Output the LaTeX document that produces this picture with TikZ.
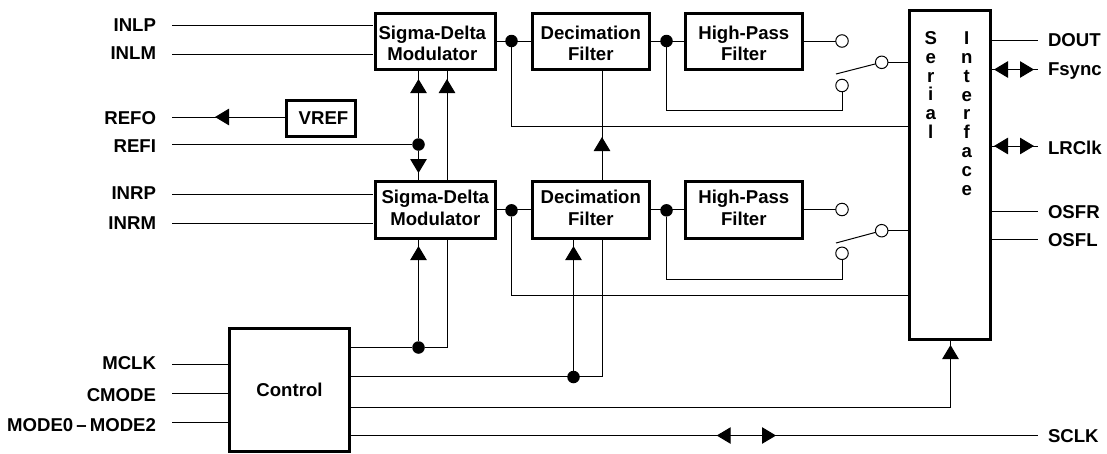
\documentclass[tikz,border=0pt]{standalone}
\usepackage{fontspec}
\setmainfont{Liberation Sans}[BoldFont={Liberation Sans Bold}]
\usetikzlibrary{arrows.meta,decorations.markings,calc}
\newcommand{\lowertext}{\rule{0pt}{17.5pt}}
\newcommand{\raisetext}{\rule[-4pt]{0pt}{4pt}}
\tikzset{
  x=1pt,y=-1pt,
  tri/.tip={Triangle[length=14pt,width=16.5pt]},
  wire/.style={line width=1pt,line cap=butt,line join=miter},
  blk/.style={draw,line width=3pt,fill=white,inner sep=0pt,outer sep=0pt,align=center,
    font=\fontsize{18.6}{21.6}\selectfont\bfseries},
  sig/.style={inner sep=0pt,outer sep=0pt,font=\fontsize{18.6}{21.6}\selectfont\bfseries},
  sigl/.style={sig,anchor=base east},
  sigr/.style={sig,anchor=base west},
  letter/.style={sig,anchor=base},
  dot/.style={circle,fill=black,draw=none,minimum size=12.5pt,inner sep=0pt,outer sep=0pt},
  port/.style={circle,fill=white,draw,line width=1pt,minimum size=12.5pt,inner sep=0pt,outer sep=0pt},
  fwd/.style={postaction={decorate},decoration={markings,mark=at position #1 with {\arrow{tri}}}},
  fwdtwo/.style 2 args={postaction={decorate},decoration={markings,
     mark=at position #1 with {\pgftransformrotate{180}\arrow{tri}},
     mark=at position #2 with {\arrow{tri}}}},
}
\begin{document}
\begin{tikzpicture}
\useasboundingbox (0,0) rectangle (1107,453);
% free ends on the left
\foreach \n/\yy in {inlp/25.5,inlm/54.5,refo/117,refi/144.5,inrp/194.5,inrm/223.5,mclk/364.5,cmode/393,modes/422}
  \coordinate (\n) at (172,\yy);
% free ends on the right
\foreach \n/\yy in {dout/40.5,fsync/69.5,lrclk/146,osfr/211,osfl/239}
  \coordinate (\n) at (1038,\yy);
\coordinate (sclk) at (1038,435.5);
% junctions
\node[dot] (j1) at (511.5,41) {};
\node[dot] (j2) at (666.5,41) {};
\node[dot] (j3) at (511.5,210.3) {};
\node[dot] (j4) at (666.5,210.3) {};
\node[dot] (j5) at (418.5,144.5) {};
\node[dot] (j6) at (418.5,347.5) {};
\node[dot] (j7) at (573.5,377) {};
% wires
\coordinate (r1) at (447,347.5);
\coordinate (r2) at (602,376.5);
\coordinate (r3) at (950.5,407);
\draw[wire] (inlp) -- (373,25.5);
\draw[wire] (inlm) -- (373,54.5);
\draw[wire] (inrp) -- (373,194.5);
\draw[wire] (inrm) -- (373,223.5);
\draw[wire] (mclk) -- (230,364.5);
\draw[wire] (cmode) -- (230,393);
\draw[wire] (modes) -- (230,422);
\draw[wire,fwd=59.2pt] (j5) -- (418.5,70);
\draw[wire] (j5) -- (refi);
\draw[wire,fwd={22.3pt}] (j5) -- (418.5,180);
\draw[wire,fwd=101pt] (447,180) -- (447,70);
\draw[wire] (r1) -- (447,240);
\draw[wire,fwd={95.2pt}] (j6) -- (418.5,240);
\draw[wire] (350,347.5) -- (j6) -- (r1);
\draw[wire] (350,376.5) -- (r2) -- (602,240);
\draw[wire,fwd=124.7pt] (j7) -- (573.5,240);
\draw[wire,fwd=43pt] (602,180) -- (602,70);
\draw[wire] (350,407) -- (r3);
\draw[wire,fwd=62pt] (r3) -- (950.5,341);
\draw[wire,fwdtwo={366.7pt}{426pt}] (350,435.5) -- (sclk);
\draw[wire] (j1) -- (511.5,126.5) -- (908,126.5);
\draw[wire] (j3) -- (511.5,295.5) -- (908,295.5);
\draw[wire] (496,41) -- (531,41);
\draw[wire] (651,41) -- (684,41);
\draw[wire] (496,209.5) -- (531,209.5);
\draw[wire] (651,209.5) -- (684,209.5);
\draw[wire] (j2) -- (666.5,110) -- (842,110) -- (842,85.5);
\draw[wire] (j4) -- (666.5,279) -- (842,279) -- (842,253.3);
\draw[wire] (804,41) -- (842,41);
\draw[wire] (804,209.5) -- (842,209.5);
\draw[wire] (881.7,62.3) -- (908,62.3);
\draw[wire] (881.7,230.7) -- (908,230.7);
\draw[wire] (836,74) -- (881.7,62.3);
\draw[wire] (836,243) -- (881.7,230.7);
\draw[wire] (991,40.5) -- (dout);
\draw[wire,fwdtwo={3pt}{43pt}] (991,69.5) -- (fsync);
\draw[wire,fwdtwo={3pt}{43pt}] (991,146) -- (lrclk);
\draw[wire] (991,211) -- (osfr);
\draw[wire] (991,239) -- (osfl);
\draw[wire,fwd=70pt] (285,117) -- (refo);
% switch contacts
\node[port] (p1) at (842,41) {};
\node[port] (p2) at (842,85.5) {};
\node[port] (p3) at (881.7,62.3) {};
\node[port] (p4) at (842,209.5) {};
\node[port] (p5) at (842,253.3) {};
\node[port] (p6) at (881.7,230.7) {};
% blocks
\node[blk,minimum width=120.5pt,minimum height=56.5pt] (sd1) at (435.3,41.5) {\lowertext Sigma-Delta\hspace*{6pt}\\Modulator\hspace*{6pt}};
\node[blk,minimum width=117.5pt,minimum height=56.5pt] (dec1) at (590.8,41.5) {\lowertext Decimation\\Filter};
\node[blk,minimum width=117.5pt,minimum height=56.5pt] (hp1) at (743.8,41.5) {\lowertext High-Pass\\Filter};
\node[blk,minimum width=120.5pt,minimum height=56.5pt] (sd2) at (435.3,210) {Sigma-Delta\\Modulator\raisetext};
\node[blk,minimum width=117.5pt,minimum height=56.5pt] (dec2) at (590.8,210) {Decimation\\Filter\raisetext};
\node[blk,minimum width=117.5pt,minimum height=56.5pt] (hp2) at (743.8,210) {High-Pass\\Filter\raisetext};
\node[blk,minimum width=68.5pt,minimum height=36.5pt] (vref) at (321,118.3) {\hspace*{5pt}VREF};
\node[blk,minimum width=119.5pt,minimum height=122.5pt] (ctl) at (289.5,390.2) {Control};
\node[blk,minimum width=80.5pt,minimum height=329pt] (ser) at (949.8,175) {};
% letters of the serial interface
\foreach \c [count=\i from 0] in {S,e,r,i,a,l}
  \node[letter] (sa\i) at (930.7,44.5+18.75*\i) {\c};
\foreach \c [count=\i from 0] in {I,n,t,e,r,f,a,c,e}
  \node[letter] (sb\i) at (966.7,44.5+18.85*\i) {\c};
% labels
\node[sigl] (tinlp) at (156,31.7) {INLP};
\node[sigl] (tinlm) at (156,59.3) {INLM};
\node[sigl] (trefo) at (156,124) {REFO};
\node[sigl] (trefi) at (156,152) {REFI};
\node[sigl] (tinrp) at (156,199.5) {INRP};
\node[sigl] (tinrm) at (156,229.5) {INRM};
\node[sigl] (tmclk) at (156,369.5) {MCLK};
\node[sigl] (tcmode) at (156,401.5) {CMODE};
\node[sigl] (tmodes) at (156,431.5) {MODE0\,–\,MODE2};
\node[sigr] (tdout) at (1048,46) {DOUT};
\node[sigr] (tfsync) at (1048,75.5) {Fsync};
\node[sigr] (tlrclk) at (1048,154.5) {LRClk};
\node[sigr] (tosfr) at (1048,218.5) {OSFR};
\node[sigr] (tosfl) at (1048,246.5) {OSFL};
\node[sigr] (tsclk) at (1048,442.5) {SCLK};
\end{tikzpicture}
\end{document}
